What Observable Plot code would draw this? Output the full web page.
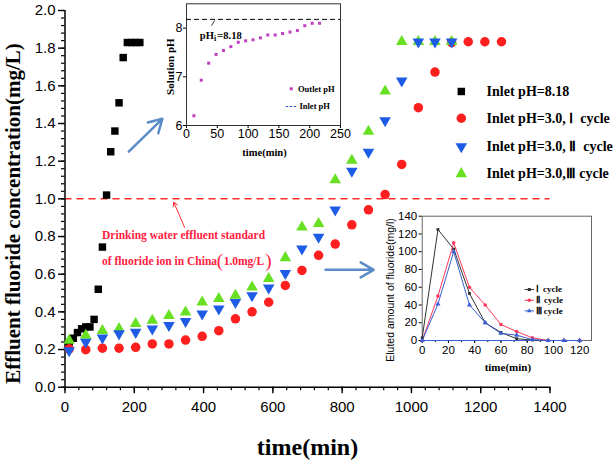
<!DOCTYPE html>
<html><head><meta charset="utf-8">
<script src="https://cdn.jsdelivr.net/npm/d3@7"></script>
<script src="https://cdn.jsdelivr.net/npm/@observablehq/plot@0.6"></script>
<style>
body{margin:0;background:#fff;}
#wrap{position:relative;width:614px;height:460px;overflow:hidden;}
#wrap > svg{position:absolute;}
</style></head><body><div id="wrap"></div>
<script>
// ---------- main chart data ----------
const timeMain = [12,60,108,156,204,252,300,348,396,444,492,540,588,636,684,732,780,828,876,924,972,1020,1068,1116,1164,1212,1260];
const concCycleI = [0.204,0.199,0.207,0.207,0.212,0.23,0.23,0.25,0.27,0.30,0.363,0.40,0.451,0.54,0.62,0.70,0.76,0.862,0.942,1.023,1.183,1.484,1.673,1.83,1.834,1.834,1.834];
const concCycleII = [0.195,0.239,0.262,0.284,0.292,0.31,0.328,0.35,0.39,0.416,0.451,0.487,0.528,0.605,0.735,0.797,0.942,1.147,1.248,1.416,1.627,1.834,1.834,1.834];
const concCycleIII = [0.248,0.275,0.30,0.31,0.337,0.354,0.38,0.398,0.451,0.47,0.487,0.531,0.576,0.687,0.85,0.868,1.10,1.204,1.358,1.572,1.834,1.834,1.834,1.834];
const timeHigh = [12,24,36,48,60,72,84,96,108,120,132,144,156,168,180,192,204,216];
const concHigh = [0.23,0.26,0.29,0.31,0.32,0.32,0.36,0.52,0.744,1.02,1.25,1.36,1.51,1.75,1.83,1.83,1.83,1.83];
const xTicks = [0,200,400,600,800,1000,1200,1400];
const yTicks = [0,0.2,0.4,0.6,0.8,1.0,1.2,1.4,1.6,1.8,2.0];
const standardLimit = 1.0;
const legendLabels = ["Inlet pH=8.18","Inlet pH=3.0, \u2160\u00a0\u00a0cycle","Inlet pH=3.0, \u2161\u00a0\u00a0cycle","Inlet pH=3.0,\u2162 cycle"];

// ---------- inset 1 (pH) data ----------
const phTime = [12,24,36,48,60,72,84,96,108,120,132,144,156,168,180,192,204,216];
const phValue = [6.20,6.93,7.28,7.46,7.54,7.62,7.71,7.74,7.76,7.80,7.86,7.86,7.89,7.92,7.95,8.05,8.10,8.10];
const phInlet = 8.18;
const phXTicks = [0,50,100,150,200,250];
const phYTicks = [6,7,8];

// ---------- inset 2 (elution) data ----------
const elTime = [0,12,24,36,48,60,72,84,96,108,120];
const elI = [3,125,103,53,20,9,2,0.5,0,0,0];
const elII = [0,50,110,60,40,18,10,3,0,0,0];
const elIII = [0,41,100,40,20,8,6,1,0,0,0];
const elXTicks = [0,20,40,60,80,100,120];
const elYTicks = [0,20,40,60,80,100,120,140];
const elLegend = ["\u2160\u00a0\u00a0cycle","\u2161\u00a0\u00a0cycle","\u2162\u00a0cycle"];

const SERIF = "Liberation Serif", SANS = "Liberation Sans";
const cBlack = "#000", cRed = "#ff1f1f", cBlue = "#1f5ce6", cGreen = "#66e020";

const rowsHigh = timeHigh.map((t,i)=>({t, v: concHigh[i]}));
const rowsI = timeMain.map((t,i)=>({t, v: concCycleI[i]}));
const rowsII = timeMain.slice(0, concCycleII.length).map((t,i)=>({t, v: concCycleII[i]}));
const rowsIII = timeMain.slice(0, concCycleIII.length).map((t,i)=>({t, v: concCycleIII[i]}));

// legend / annotation anchors (data coordinates)
const legMarkX = 1144, legTextX = 1217, legY = [1.570, 1.428, 1.278, 1.133];
const legendRows = legendLabels.map((s,i)=>({s, y: legY[i]}));

const main = Plot.plot({
  width: 614, height: 460,
  marginLeft: 64.5, marginRight: 64.5, marginTop: 10, marginBottom: 73.3,
  x: {domain: [0,1400], label: null},
  y: {domain: [0,2], label: null},
  style: {background: "none", fontFamily: SANS, fontSize: "15px", color: "#000", overflow: "visible"},
  marks: [
    Plot.ruleY([standardLimit], {stroke: "#ff2a2a", strokeWidth: 1.5, strokeDasharray: "7,5"}),
    Plot.axisX({ticks: d3.range(0, 1401, 40), tickSize: 3.5, tickFormat: () => "", label: null, strokeWidth: 1.2}),
    Plot.axisX({ticks: xTicks, tickSize: 6.5, tickPadding: 8, label: null, fontSize: 15, strokeWidth: 1.4, tickFormat: d => String(d)}),
    Plot.axisY({ticks: d3.range(0, 2.0001, 0.04), tickSize: 3.5, tickFormat: () => "", label: null, strokeWidth: 1.2}),
    Plot.axisY({ticks: yTicks, tickSize: 6.5, tickPadding: 3, label: null, fontSize: 15, strokeWidth: 1.4, tickFormat: d => d.toFixed(1)}),
    Plot.ruleX([0], {strokeWidth: 1.5}),
    Plot.ruleY([0], {strokeWidth: 1.5}),
    Plot.dot(rowsHigh, {x: "t", y: "v", symbol: "square", r: 4.2, fill: cBlack}),
    Plot.dot(rowsI, {x: "t", y: "v", symbol: "circle", r: 4.75, fill: cRed}),
    Plot.dot(rowsIII, {x: "t", y: "v", symbol: "triangle", r: 4.3, fill: cGreen}),
    Plot.dot(rowsII, {x: "t", y: "v", symbol: "triangle", rotate: 180, r: 4.3, fill: cBlue}),
    // arrows
    Plot.arrow([{x1: 184, y1: 1.251, x2: 281, y2: 1.425}, {x1: 752, y1: 0.623, x2: 891, y2: 0.623}],
      {x1: "x1", y1: "y1", x2: "x2", y2: "y2", stroke: "#5b8cc8", strokeWidth: 2.5, headLength: 9}),
    Plot.arrow([{x1: 345, y1: 0.849, x2: 314, y2: 0.982}],
      {x1: "x1", y1: "y1", x2: "x2", y2: "y2", stroke: "#ff2a2a", strokeWidth: 1, headLength: 7}),
    // annotation
    Plot.text(["Drinking water effluent standard"], {x: 107, y: 0.805, text: d => d, textAnchor: "start", fill: "#ff2040", fontFamily: SERIF, fontWeight: "bold", fontSize: 11.5}),
    Plot.text(["of fluoride ion in China"], {x: 107, y: 0.668, text: d => d, textAnchor: "start", fill: "#ff2040", fontFamily: SERIF, fontWeight: "bold", fontSize: 11.5}),
    Plot.text(["("], {x: 438, y: 0.668, text: d => d, textAnchor: "start", fill: "#ff2040", fontFamily: SERIF, fontSize: 19}),
    Plot.text(["1.0mg/L"], {x: 458, y: 0.668, text: d => d, textAnchor: "start", fill: "#ff2040", fontFamily: SERIF, fontWeight: "bold", fontSize: 11.5}),
    Plot.text([")"], {x: 578, y: 0.668, text: d => d, textAnchor: "start", fill: "#ff2040", fontFamily: SERIF, fontSize: 19}),
    // legend
    Plot.dot([legendRows[0]], {x: () => legMarkX, y: "y", symbol: "square", r: 4.2, fill: cBlack}),
    Plot.dot([legendRows[1]], {x: () => legMarkX, y: "y", symbol: "circle", r: 4.75, fill: cRed}),
    Plot.dot([legendRows[2]], {x: () => legMarkX, y: "y", symbol: "triangle", rotate: 180, r: 4.3, fill: cBlue}),
    Plot.dot([legendRows[3]], {x: () => legMarkX, y: "y", symbol: "triangle", r: 4.3, fill: cGreen}),
    Plot.text(legendRows, {x: () => legTextX, y: "y", text: "s", textAnchor: "start", fontFamily: SERIF, fontWeight: "bold", fontSize: 14, fill: "#000"}),
    // axis titles
    Plot.text(["time(min)"], {frameAnchor: "bottom", dy: 60.6, lineAnchor: "middle", textAnchor: "middle", text: d => d, fontFamily: SERIF, fontWeight: "bold", fontSize: 24, fill: "#000"}),
    Plot.text(["Effluent fluoride concentration(mg/L)"], {frameAnchor: "left", dx: -52, dy: 14.7, rotate: -90, textAnchor: "middle", lineAnchor: "middle", text: d => d, fontFamily: SERIF, fontWeight: "bold", fontSize: 21, fill: "#000"})
  ]
});

// ---------- inset 1 ----------
const phRows = phTime.map((t,i)=>({t, v: phValue[i]}));
const inset1 = Plot.plot({
  width: 200, height: 165, marginLeft: 36, marginRight: 10, marginTop: 3.3, marginBottom: 40,
  x: {domain: [0,250], label: null}, y: {domain: [6,8.5], label: null},
  style: {background: "none", fontFamily: SANS, fontSize: "12.5px", color: "#000", overflow: "visible"},
  marks: [
    Plot.frame({stroke: "#333", strokeWidth: 1}),
    Plot.axisX({ticks: phXTicks, tickSize: 3, tickPadding: 1, label: null, fontSize: 12.5, tickFormat: d => String(d)}),
    Plot.axisY({ticks: phYTicks, tickSize: 3, tickPadding: 1, label: null, fontSize: 12.5, tickFormat: d => String(d)}),
    Plot.ruleY([phInlet], {stroke: "#000", strokeWidth: 1, strokeDasharray: "5,3"}),
    Plot.dot(phRows, {x: "t", y: "v", symbol: "square", r: 1.7, fill: "#c040c0"}),
    Plot.link([{x1: 40.6, y1: 8.05, x2: 46, y2: 8.16}], {x1: "x1", y1: "y1", x2: "x2", y2: "y2", stroke: "#000", strokeWidth: 0.8}),
    Plot.text(["pH"], {x: 21.6, y: 7.85, text: d => d, textAnchor: "start", fontFamily: SERIF, fontWeight: "bold", fontSize: 10.5}),
    Plot.text(["i"], {x: 44.5, y: 7.85, dy: 3, text: d => d, textAnchor: "start", fontFamily: SERIF, fontWeight: "bold", fontSize: 8}),
    Plot.text(["=8.18"], {x: 50, y: 7.85, text: d => d, textAnchor: "start", fontFamily: SERIF, fontWeight: "bold", fontSize: 10.5}),
    // legend
    Plot.dot([0], {x: () => 170, y: () => 6.754, symbol: "square", r: 1.7, fill: "#c040c0"}),
    Plot.text(["Outlet pH"], {x: 181, y: 6.754, text: d => d, textAnchor: "start", fontFamily: SERIF, fontWeight: "bold", fontSize: 8.5}),
    Plot.link([0], {x1: () => 161, x2: () => 180, y1: () => 6.39, y2: () => 6.39, stroke: "#2b4fd0", strokeWidth: 1, strokeDasharray: "2.5,1.5"}),
    Plot.text(["Inlet pH"], {x: 183.4, y: 6.39, text: d => d, textAnchor: "start", fontFamily: SERIF, fontWeight: "bold", fontSize: 8.5}),
    Plot.text(["time(min)"], {frameAnchor: "bottom", dy: 26.7, dx: 1, lineAnchor: "middle", textAnchor: "middle", text: d => d, fontFamily: SERIF, fontWeight: "bold", fontSize: 10.5}),
    Plot.text(["Solution pH"], {frameAnchor: "left", dx: -16, dy: 2, rotate: -90, textAnchor: "middle", lineAnchor: "middle", text: d => d, fontFamily: SERIF, fontWeight: "bold", fontSize: 11})
  ]
});

// ---------- inset 2 ----------
const elRows = (arr) => elTime.map((t,i)=>({t, v: arr[i]}));
const elC = ["#333", "#ff3a5c", "#3a5fd6"];
const elLegY = [57.4, 45.3, 33.4];
const inset2 = Plot.plot({
  width: 220, height: 175, marginLeft: 41.7, marginRight: 9, marginTop: 10.7, marginBottom: 40,
  x: {domain: [0,129], label: null}, y: {domain: [0,140], label: null},
  style: {background: "none", fontFamily: SANS, fontSize: "11.5px", color: "#000", overflow: "visible"},
  marks: [
    Plot.frame({stroke: "#666", strokeWidth: 1}),
    Plot.axisX({ticks: d3.range(0, 129, 10), tickSize: 2, tickFormat: () => "", label: null}),
    Plot.axisX({ticks: elXTicks, tickSize: 3, tickPadding: 2, label: null, fontSize: 11.5, tickFormat: d => String(d)}),
    Plot.axisY({ticks: elYTicks, tickSize: 3, tickPadding: 2, label: null, fontSize: 11.5, tickFormat: d => String(d)}),
    Plot.ruleY([0], {x1: 0, x2: 120, stroke: elC[2], strokeWidth: 1}),
    Plot.line(elRows(elI), {x: "t", y: "v", stroke: elC[0], strokeWidth: 1}),
    Plot.line(elRows(elII), {x: "t", y: "v", stroke: elC[1], strokeWidth: 1}),
    Plot.line(elRows(elIII), {x: "t", y: "v", stroke: elC[2], strokeWidth: 1}),
    Plot.dot(elRows(elI), {x: "t", y: "v", symbol: "square", r: 1.6, fill: elC[0]}),
    Plot.dot(elRows(elII), {x: "t", y: "v", symbol: "circle", r: 1.8, fill: elC[1]}),
    Plot.dot(elRows(elIII), {x: "t", y: "v", symbol: "triangle", r: 1.9, fill: elC[2]}),
    // legend
    ...[0,1,2].flatMap(i => [
      Plot.link([0], {x1: () => 78, x2: () => 85.2, y1: () => elLegY[i], y2: () => elLegY[i], stroke: elC[i], strokeWidth: 1}),
      Plot.dot([0], {x: () => 81.6, y: () => elLegY[i], symbol: ["square","circle","triangle"][i], r: 1.7, fill: elC[i]}),
      Plot.text([elLegend[i]], {x: 86.4, y: elLegY[i], text: d => d, textAnchor: "start", fontFamily: SERIF, fontWeight: "bold", fontSize: 9})
    ]),
    Plot.text(["time(min)"], {frameAnchor: "bottom", dy: 27.3, dx: 1, lineAnchor: "middle", textAnchor: "middle", text: d => d, fontFamily: SERIF, fontWeight: "bold", fontSize: 11}),
    Plot.text(["Eluted amount of fluoride(mg/l)"], {frameAnchor: "left", dx: -31.7, dy: 11.6, rotate: -90, textAnchor: "middle", lineAnchor: "middle", text: d => d, fontFamily: SANS, fontSize: 10.5})
  ]
});

const wrap = document.getElementById("wrap");
main.style.left = "0px"; main.style.top = "0px";
inset1.style.left = "150px"; inset1.style.top = "0px";
inset2.style.left = "380px"; inset2.style.top = "205px";
wrap.appendChild(main);
wrap.appendChild(inset1);
wrap.appendChild(inset2);
</script>
</body></html>
